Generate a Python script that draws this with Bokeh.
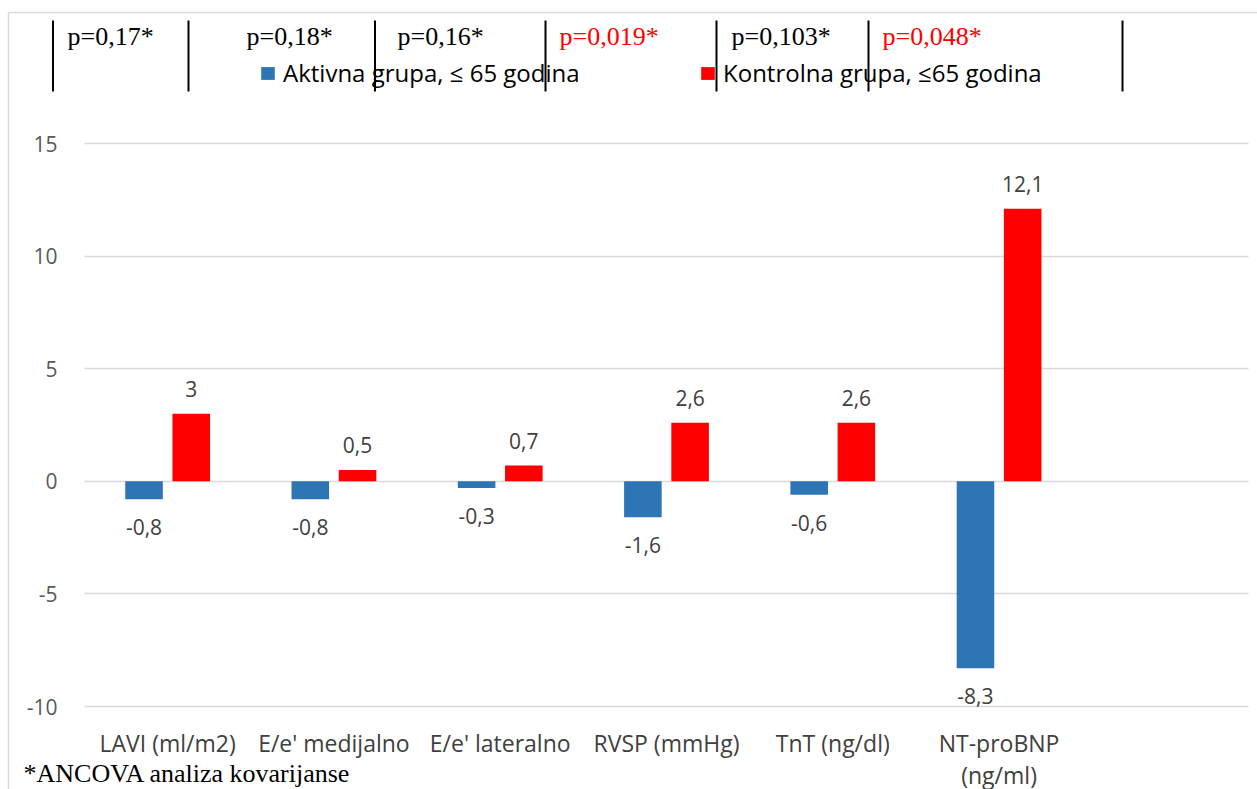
from bokeh.plotting import figure
from bokeh.models import (Range1d, FixedTicker, Label, LabelSet, Arrow, Legend,
                          LegendItem, ColumnDataSource)
from bokeh.core.properties import value
from bokeh.embed import file_html
from bokeh.resources import INLINE

# --- data -------------------------------------------------------------------
categories = ["LAVI (ml/m2)", "E/e' medijalno", "E/e' lateralno",
              "RVSP (mmHg)", "TnT (ng/dl)", "NT-proBNP\n(ng/ml)"]
aktivna = [-0.8, -0.8, -0.3, -1.6, -0.6, -8.3]      # Aktivna grupa, <= 65 godina
kontrolna = [3, 0.5, 0.7, 2.6, 2.6, 12.1]           # Kontrolna grupa, <= 65 godina
p_values = ["p=0,17*", "p=0,18*", "p=0,16*", "p=0,019*", "p=0,103*", "p=0,048*"]
p_significant = [False, False, False, True, False, True]
y_ticks = [-10, -5, 0, 5, 10, 15]
series_names = ["Aktivna grupa, \u2264 65 godina", "Kontrolna grupa, \u226465 godina"]
footnote = "*ANCOVA analiza kovarijanse"

# --- styling ----------------------------------------------------------------
BLUE = "#2E75B6"
RED = "#FF0000"
GRID = "#D9D9D9"
SANS = "Open Sans"
SERIF = "Liberation Serif"

W, H = 1257, 789
# plot area inside the canvas (pixels from top-left)
PA_LEFT, PA_RIGHT = 84, 1248
PX_15, PX_M10 = 143, 706            # pixel rows of the 15 and -10 gridlines
PA_BOTTOM = 720                     # where the category labels hang from
n_slots = 7                         # six groups plus one empty slot on the right
bar_w = 0.226
shift = 0.142

# data ranges chosen so that the frame fills the whole canvas
ux = (PA_RIGHT - PA_LEFT) / n_slots
uy = (PX_M10 - PX_15) / 25.0
x0 = -PA_LEFT / ux
x1 = n_slots + (W - PA_RIGHT) / ux
y1 = 15 + PX_15 / uy
y0 = -10 - (H - PX_M10) / uy
x_axis_at = -10 - (PA_BOTTOM - PX_M10) / uy


def fmt(v):
    return ("%g" % v).replace(".", ",")


p = figure(width=W, height=H, output_backend="svg", toolbar_location=None,
           x_range=Range1d(x0, x1), y_range=Range1d(y0, y1),
           min_border=0, min_border_left=0, min_border_right=0,
           min_border_top=0, min_border_bottom=0)
p.outline_line_color = None
p.background_fill_color = "white"
p.border_fill_color = "white"

centers = [i + 0.5 for i in range(len(categories))]
src_a = ColumnDataSource(dict(x=[c - shift for c in centers], top=aktivna,
                              label=[fmt(v) for v in aktivna],
                              off=[25 if v >= 0 else -28 for v in aktivna]))
src_k = ColumnDataSource(dict(x=[c + shift for c in centers], top=kontrolna,
                              label=[fmt(v) for v in kontrolna],
                              off=[25 if v >= 0 else -28 for v in kontrolna]))

r_a = p.vbar(x="x", top="top", bottom=0, width=bar_w, source=src_a,
             fill_color=BLUE, line_color=None)
r_k = p.vbar(x="x", top="top", bottom=0, width=bar_w, source=src_k,
             fill_color=RED, line_color=None)

# value labels: above positive bars, below negative bars
for src in (src_a, src_k):
    p.add_layout(LabelSet(x="x", y="top", text="label", y_offset="off", source=src,
                          text_align="center", text_baseline="middle",
                          text_font=value(SANS), text_font_size=value("21px"),
                          text_color=value("#404040")))

# axes pinned to the plot-area edges
p.xaxis.fixed_location = x_axis_at
p.xaxis.ticker = FixedTicker(ticks=centers)
p.xaxis.major_label_overrides = {c: lab for c, lab in zip(centers, categories)}
p.xaxis.axis_line_color = None
p.xaxis.major_tick_line_color = None
p.xaxis.minor_tick_line_color = None
p.xaxis.major_label_standoff = 0
p.xaxis.major_label_text_font = SANS
p.xaxis.major_label_text_font_size = "23px"
p.xaxis.major_label_text_line_height = 1.0
p.xaxis.major_label_text_color = "#404040"

p.yaxis.fixed_location = 0
p.yaxis.ticker = FixedTicker(ticks=y_ticks)
p.yaxis.major_label_overrides = {t: str(t) for t in y_ticks}
p.yaxis.axis_line_color = None
p.yaxis.major_tick_line_color = None
p.yaxis.minor_tick_line_color = None
p.yaxis.major_label_standoff = 21
p.yaxis.major_label_text_font = SANS
p.yaxis.major_label_text_font_size = "21px"
p.yaxis.major_label_text_color = "#595959"

p.xgrid.grid_line_color = None
p.ygrid.ticker = FixedTicker(ticks=y_ticks)
p.ygrid.grid_line_color = GRID
p.ygrid.grid_line_width = 1.5
p.ygrid.cross_bounds = (0, n_slots)


# helpers for positions given in canvas pixels from the top-left
def sx(x):
    return x


def sy(y):
    return H - y


def seg(xa, ya, xb, yb, color, width):
    p.add_layout(Arrow(end=None, x_start=sx(xa), y_start=sy(ya),
                       x_end=sx(xb), y_end=sy(yb),
                       start_units="screen", end_units="screen",
                       line_color=color, line_width=width))


# chart-area border (top and left)
seg(8, 12, W, 12, GRID, 1.5)
seg(8, 12, 8, H, GRID, 1.5)

# legends
for r, name, xl in ((r_a, series_names[0], 259), (r_k, series_names[1], 699)):
    leg = Legend(items=[LegendItem(label=name, renderers=[r])],
                 location=(sx(xl), sy(89)), orientation="horizontal",
                 glyph_width=17, glyph_height=16, label_standoff=7,
                 label_height=16, padding=0, margin=0, spacing=0,
                 border_line_color=None, background_fill_alpha=0,
                 label_text_font=SANS, label_text_font_size="24px",
                 label_text_color="black")
    p.add_layout(leg)

# header table with p-values
for xl in [52.5, 188, 374.5, 545, 716, 868, 1122]:
    seg(xl, 20, xl, 91, "black", 2)

p_x = [67, 246, 397, 559, 731, 882]
for xt, txt, sig in zip(p_x, p_values, p_significant):
    p.add_layout(Label(x=sx(xt), y=sy(36), x_units="screen", y_units="screen",
                       text=txt, text_font=SERIF, text_font_size="26px",
                       text_color=RED if sig else "black",
                       text_align="left", text_baseline="alphabetic"))

# footnote
p.add_layout(Label(x=sx(23), y=sy(773), x_units="screen", y_units="screen",
                   text=footnote, text_font=SERIF, text_font_size="26px",
                   text_color="black", text_align="left",
                   text_baseline="alphabetic"))

open("out.html", "w").write(file_html(p, INLINE))
